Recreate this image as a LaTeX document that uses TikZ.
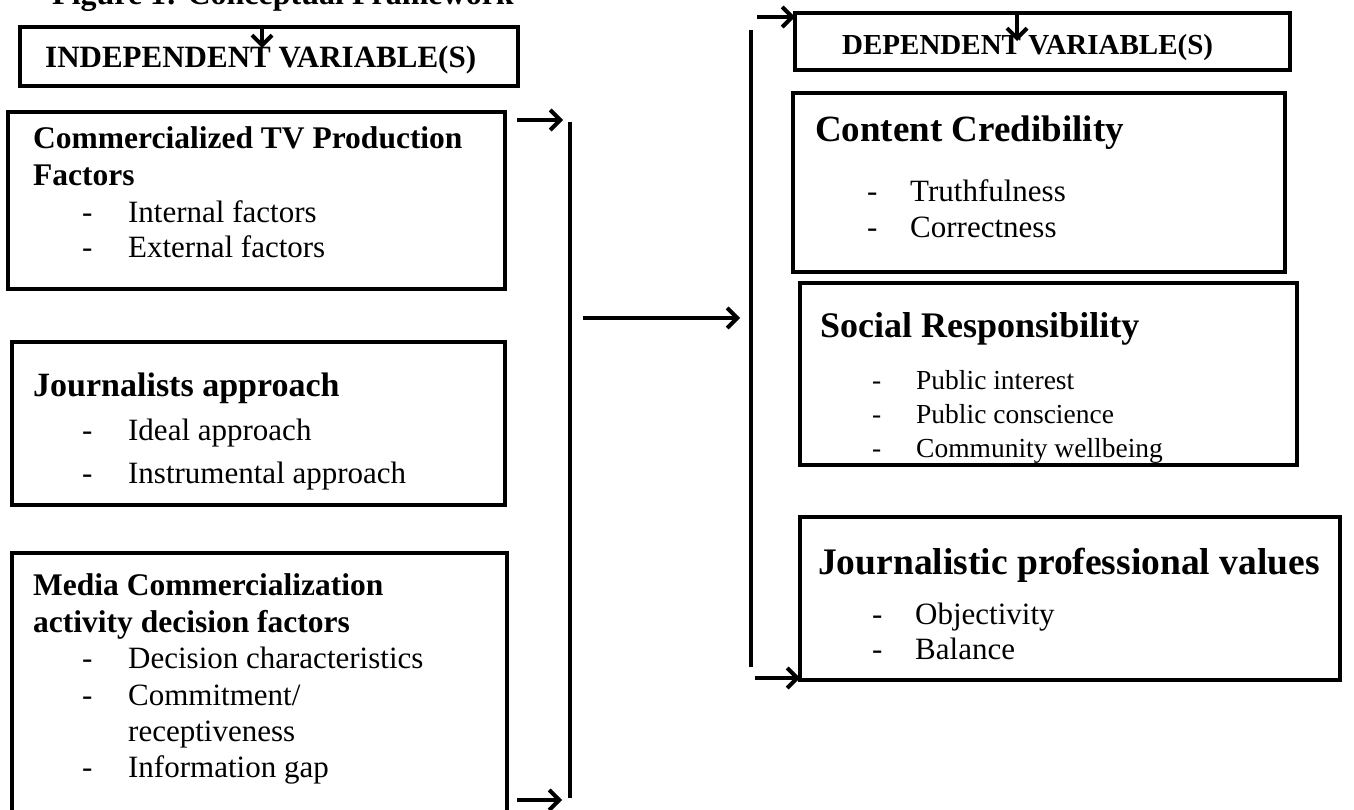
\documentclass[tikz,border=0pt]{standalone}
\usepackage{fontspec}
\setmainfont{Liberation Serif}
\usetikzlibrary{arrows.meta}

\begin{document}
\begin{tikzpicture}[x=1pt,y=-1pt,
  box/.style={draw=black, line width=4.5pt, inner sep=0pt, outer sep=0pt, anchor=north west},
  hd/.style={anchor=base west, inner sep=0pt, font=\bfseries\fontsize{#1}{#1}\selectfont},
  itm/.style={anchor=base west, inner sep=0pt, font=\fontsize{#1}{#1}\selectfont},
  bar/.style={line width=4pt},
  conn/.style={line width=4pt, -{Straight Barb[length=10pt,width=20pt]}},
]
\path[use as bounding box] (0,0) rectangle (1354,810);
\clip (0,0) rectangle (1354,810);

% caption, cut by the top edge
\node[hd=32] (title) at (52,5) {Figure 1: Conceptual Framework};

% ---------- independent variables ----------
\node[box, minimum width=498pt, minimum height=59pt] (indhead) at (20,27) {};
\node[hd=31] (indtext) at (45,68) {INDEPENDENT VARIABLE(S)};

\node[box, minimum width=497pt, minimum height=177pt] (prod) at (8,112) {};
\node[hd=31.5] (prodA) at (33,149) {Commercialized TV Production};
\node[hd=31.5] (prodB) at (33,186) {Factors};
\node[itm=31] (prod1) at (82,223) {\makebox[46pt][l]{-}Internal factors};
\node[itm=31] (prod2) at (82,258) {\makebox[46pt][l]{-}External factors};

\node[box, minimum width=493pt, minimum height=163pt] (appr) at (12,342) {};
\node[hd=34] (apprA) at (33,396) {Journalists approach};
\node[itm=31] (appr1) at (82,440) {\makebox[46pt][l]{-}Ideal approach};
\node[itm=31] (appr2) at (82,483) {\makebox[46pt][l]{-}Instrumental approach};

\node[box, minimum width=495pt, minimum height=290pt] (media) at (12,553) {};
\node[hd=31.5] (mediaA) at (33,595) {Media Commercialization};
\node[hd=31.5] (mediaB) at (33,632) {activity decision factors};
\node[itm=31] (media1) at (82,668) {\makebox[46pt][l]{-}Decision characteristics};
\node[itm=31] (media2) at (82,705) {\makebox[46pt][l]{-}Commitment/};
\node[itm=31] (media3) at (128,741) {receptiveness};
\node[itm=31] (media4) at (82,777) {\makebox[46pt][l]{-}Information gap};

% ---------- dependent variables ----------
\node[box, minimum width=495pt, minimum height=57pt] (dephead) at (795,13) {};
\node[hd=29] (deptext) at (842,55) {DEPENDENT VARIABLE(S)};

\node[box, minimum width=492pt, minimum height=179pt] (cred) at (793,93) {};
\node[hd=37] (credA) at (815,142) {Content Credibility};
\node[itm=31] (cred1) at (867,202) {\makebox[43pt][l]{-}Truthfulness};
\node[itm=31] (cred2) at (867,238) {\makebox[43pt][l]{-}Correctness};

\node[box, minimum width=497pt, minimum height=182pt] (soc) at (800,283) {};
\node[hd=36] (socA) at (820,337) {Social Responsibility};
\node[itm=27.5] (soc1) at (872,389) {\makebox[44pt][l]{-}Public interest};
\node[itm=27.5] (soc2) at (872,423) {\makebox[44pt][l]{-}Public conscience};
\node[itm=27.5] (soc3) at (872,457) {\makebox[44pt][l]{-}Community wellbeing};

\node[box, minimum width=540pt, minimum height=163pt] (prof) at (800,517) {};
\node[hd=37.5] (profA) at (818,574) {Journalistic professional values};
\node[itm=31] (prof1) at (872,624) {\makebox[43pt][l]{-}Objectivity};
\node[itm=31] (prof2) at (872,659) {\makebox[43pt][l]{-}Balance};

% ---------- connectors ----------
\coordinate (lbarTop) at (570,122);
\coordinate (lbarBot) at (570,798);
\coordinate (rbarTop) at (751,30);
\coordinate (rbarBot) at (751,667);
\draw[bar] (lbarTop) -- (lbarBot);
\draw[bar] (rbarTop) -- (rbarBot);

\coordinate (inTopS) at (517,120);
\coordinate (inTopE) at (563,120);
\coordinate (inBotS) at (517,800);
\coordinate (inBotE) at (562,800);
\draw[conn] (inTopS) -- (inTopE);
\draw[conn] (inBotS) -- (inBotE);

\coordinate (midS) at (583,318);
\coordinate (midE) at (740,318);
\draw[conn] (midS) -- (midE);

\coordinate (outTopS) at (757,17);
\draw[conn] (outTopS) -- (dephead.north west |- outTopS);
\coordinate (outBotS) at (755,678);
\draw[conn] (outBotS) -- (prof.south west |- outBotS);

\coordinate (indArrS) at (262,27);
\coordinate (indArrE) at (262,48);
\draw[conn] (indArrS) -- (indArrE);
\coordinate (depArrS) at (1017,13);
\coordinate (depArrE) at (1017,41);
\draw[conn] (depArrS) -- (depArrE);
\end{tikzpicture}
\end{document}
